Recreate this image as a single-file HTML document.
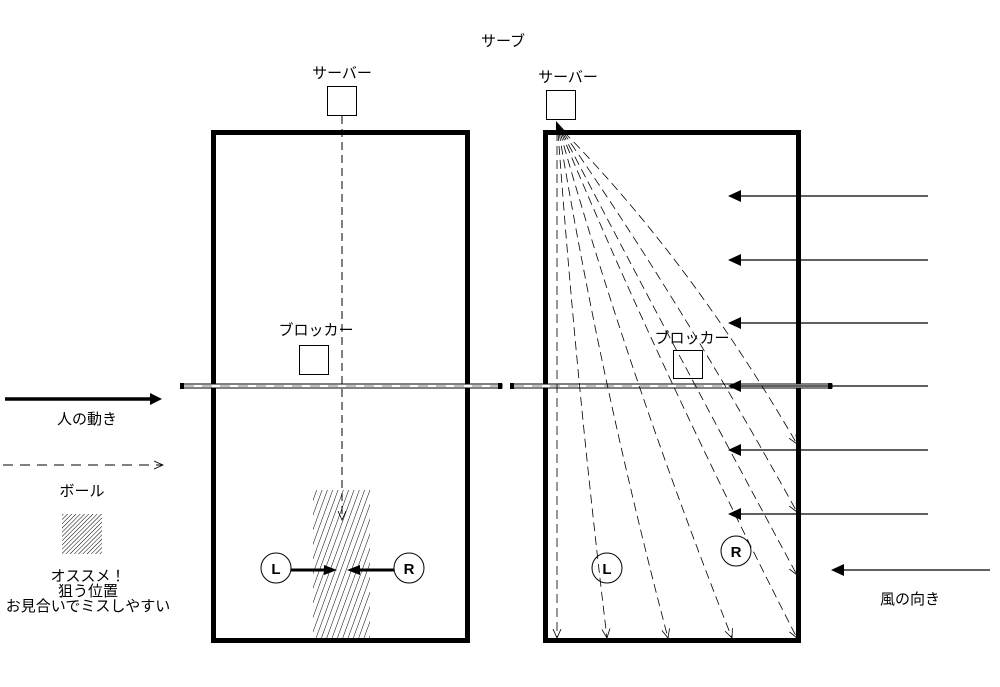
<!DOCTYPE html>
<html><head><meta charset="utf-8"><style>
body{margin:0;background:#fff;width:1000px;height:682px;overflow:hidden}
svg text{font-family:"Liberation Sans","Noto Sans CJK JP",sans-serif;font-size:15px;fill:#000}
</style></head><body>
<svg width="1000" height="682" viewBox="0 0 1000 682">
<defs>
<pattern id="h" width="5" height="5" patternUnits="userSpaceOnUse" patternTransform="rotate(20)">
<line x1="0" y1="0" x2="0" y2="5" stroke="#000" stroke-width="1"/></pattern>
<pattern id="h2" width="3" height="3" patternUnits="userSpaceOnUse" patternTransform="rotate(45)">
<line x1="0" y1="0" x2="0" y2="3" stroke="#000" stroke-width="1"/></pattern>
<marker id="oh" markerWidth="10" markerHeight="10" refX="9" refY="5" orient="auto" markerUnits="userSpaceOnUse"><path d="M0,1 L9,5 L0,9" fill="none" stroke="#000" stroke-width="0.8"/></marker>
</defs>
<text x="503" y="46" text-anchor="middle" font-size="16">サーブ</text>
<text x="342" y="78" text-anchor="middle">サーバー</text>
<text x="568" y="82" text-anchor="middle">サーバー</text>
<rect x="213.5" y="132.5" width="254" height="508" fill="none" stroke="#000" stroke-width="5"/>
<rect x="545.5" y="132.5" width="253" height="508" fill="none" stroke="#000" stroke-width="5"/>
<rect x="327.5" y="86.5" width="29" height="29" fill="#fff" stroke="#000"/>
<rect x="546.5" y="90.5" width="29" height="29" fill="#fff" stroke="#000"/>
<rect x="313" y="490" width="57" height="150" fill="url(#h)"/>
<line x1="342" y1="116" x2="342" y2="520" stroke="#000" stroke-dasharray="8,5" marker-end="url(#oh)"/>
<rect x="299.5" y="345.5" width="29" height="29" fill="#fff" stroke="#000"/>
<text x="316" y="335" text-anchor="middle">ブロッカー</text>
<g stroke="#000">
<rect x="181" y="384" width="321" height="4" fill="#fff" stroke-width="1"/>
<rect x="511" y="384" width="321" height="4" fill="#fff" stroke-width="1"/>
<line x1="184" y1="386" x2="499" y2="386" stroke-dasharray="10,8" stroke-width="0.6"/>
<line x1="514" y1="386" x2="829" y2="386" stroke-dasharray="10,8" stroke-width="0.6"/>
</g>
<rect x="180" y="383" width="4" height="6"/><rect x="498" y="383" width="4" height="6"/>
<rect x="510" y="383" width="4" height="6"/><rect x="828" y="383" width="4" height="6"/>
<g stroke="#000" fill="#fff">
<circle cx="276" cy="568" r="15"/><circle cx="409" cy="568" r="15"/>
<circle cx="607" cy="568" r="15"/><circle cx="736" cy="551" r="15"/>
</g>
<text x="276" y="574" font-weight="bold" text-anchor="middle">L</text>
<text x="409" y="574" font-weight="bold" text-anchor="middle">R</text>
<text x="607" y="574" font-weight="bold" text-anchor="middle">L</text>
<text x="736" y="557" font-weight="bold" text-anchor="middle">R</text>
<line x1="291" y1="570" x2="326" y2="570" stroke="#000" stroke-width="3"/>
<path d="M324,565 L337,570 L324,575z"/>
<line x1="394" y1="570" x2="358" y2="570" stroke="#000" stroke-width="3"/>
<path d="M360,565 L347,570 L360,575z"/>
<g fill="none" stroke="#000" stroke-width="0.8" stroke-dasharray="9,5" marker-end="url(#oh)">
<path d="M557,132 L557,638"/>
<path d="M558,132 Q576,380 607,638"/>
<path d="M559,132 Q600,380 668,638"/>
<path d="M560,132 Q630,380 732,638"/>
<path d="M561,132 Q660,370 797,638"/>
<path d="M562,132 Q670,340 797,575"/>
<path d="M563,132 Q680,300 797,512"/>
<path d="M564,132 Q690,260 797,444"/>
</g>
<path d="M556,121 L566,132 L556,132z"/>
<rect x="673.5" y="350.5" width="29" height="28" fill="none" stroke="#000"/>
<text x="692" y="343" text-anchor="middle">ブロッカー</text>
<g stroke="#000" stroke-width="1.2">
<line x1="928" y1="196" x2="740" y2="196"/>
<line x1="928" y1="260" x2="740" y2="260"/>
<line x1="928" y1="323" x2="740" y2="323"/>
<line x1="928" y1="386" x2="740" y2="386"/>
<line x1="928" y1="450" x2="740" y2="450"/>
<line x1="928" y1="514" x2="740" y2="514"/>
<line x1="990" y1="570" x2="843" y2="570"/>
</g>
<path d="M728,196 l13,-6 v12z M728,260 l13,-6 v12z M728,323 l13,-6 v12z M728,386 l13,-6 v12z M728,450 l13,-6 v12z M728,514 l13,-6 v12z M831,570 l13,-6 v12z"/>
<text x="910" y="604" text-anchor="middle">風の向き</text>
<line x1="5" y1="399" x2="152" y2="399" stroke="#000" stroke-width="3.5"/>
<path d="M150,393 L162,399 L150,405z"/>
<text x="87" y="424" text-anchor="middle">人の動き</text>
<line x1="3" y1="465" x2="163" y2="465" stroke="#000" stroke-dasharray="10,7" marker-end="url(#oh)"/>
<text x="82" y="496" text-anchor="middle">ボール</text>
<rect x="62" y="514" width="40" height="40" fill="url(#h2)"/>
<text x="88" y="581" text-anchor="middle">オススメ！</text>
<text x="88" y="596" text-anchor="middle">狙う位置</text>
<text x="88" y="611" text-anchor="middle">お見合いでミスしやすい</text>
</svg>
</body></html>
